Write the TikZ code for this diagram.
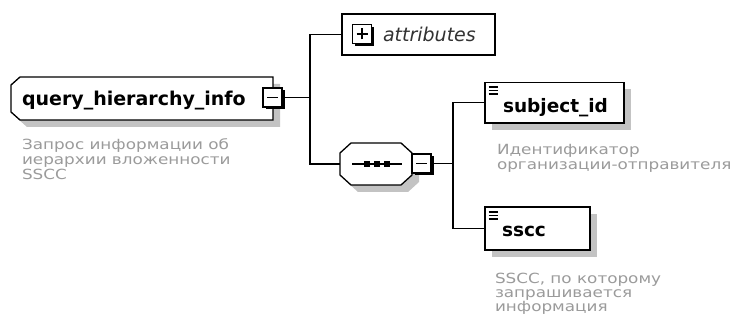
\documentclass[tikz,border=0pt]{standalone}
\usepackage{fontspec}
\setmainfont{DejaVu Sans}
\usetikzlibrary{shadows}
\definecolor{descgray}{RGB}{155,155,155}
\definecolor{shadowgray}{RGB}{195,195,195}
\definecolor{attrtext}{RGB}{50,50,50}
\newcommand{\dscl}[1]{\scalebox{1.2}[1]{#1}}
\begin{document}
\begin{tikzpicture}[x=1pt,y=-1pt,
  every node/.style={inner sep=0pt, outer sep=0pt},
  bshadow/.style={drop shadow={fill=shadowgray, opacity=1, shadow xshift=7pt, shadow yshift=-7pt}},
  elbox/.style={draw=black, fill=white, line width=1.3pt, bshadow},
  togglebox/.style={draw=black, fill=white, line width=1.2pt, minimum width=19pt, minimum height=19pt,
    drop shadow={fill=black, opacity=1, shadow xshift=2.5pt, shadow yshift=-2.5pt}},
  minusbox/.style={togglebox, path picture={\draw[line width=1.2pt] ([xshift=-5.5pt]path picture bounding box.center) -- ([xshift=5.5pt]path picture bounding box.center);}},
  plusbox/.style={togglebox, path picture={\draw[line width=1.2pt] ([xshift=-5.5pt]path picture bounding box.center) -- ([xshift=5.5pt]path picture bounding box.center) ([yshift=-5.5pt]path picture bounding box.center) -- ([yshift=5.5pt]path picture bounding box.center);}},
  conn/.style={draw=black, line width=1.2pt},
  title/.style={font=\fontsize{18.5}{20}\selectfont\bfseries, text=black},
  attrlabel/.style={font=\fontsize{19}{20}\selectfont\itshape, text=attrtext},
  desc/.style={font=\fontsize{14}{15}\selectfont, text=descgray, align=left},
  icon/.style={line width=1.2pt}
]
\useasboundingbox (0,0) rectangle (733,328);
\fill[white] (0,0) rectangle (733,328);

% main element
\node[minimum width=262pt, minimum height=43pt] (main) at (142,98.5) {};
\draw[elbox] ([xshift=9pt]main.north west) -- (main.north east) -- (main.south east)
  -- ([xshift=9pt]main.south west) -- ([yshift=8pt]main.south west) -- ([yshift=-8pt]main.north west) -- cycle;
\node[title, font=\fontsize{19}{20}\selectfont\bfseries, anchor=base west] (maintxt) at (22,106) {query\_hierarchy\_info};
\node[minusbox] (mminus) at (272.5,97.5) {};
\node[desc, anchor=base west] (maindesc) at (22,180) {\dscl{Запрос информации об}\\\dscl{иерархии вложенности}\\\dscl{SSCC}};

% attributes
\node[draw=black, fill=white, line width=1.2pt, minimum width=153pt, minimum height=41pt] (attr) at (418.5,34.5) {};
\node[plusbox] (aplus) at (362,34) {};
\node[attrlabel, anchor=base west] (attrtxt) at (383,41.5) {attributes};

% sequence
\node[minimum width=72pt, minimum height=42pt] (seq) at (376,164) {};
\draw[elbox, shadow xshift=8pt] ([xshift=11pt]seq.north west) -- ([xshift=-11pt]seq.north east) -- ([yshift=-10pt]seq.north east)
  -- ([yshift=10pt]seq.south east) -- ([xshift=-11pt]seq.south east) -- ([xshift=11pt]seq.south west)
  -- ([yshift=10pt]seq.south west) -- ([yshift=-10pt]seq.north west) -- cycle;
\draw[line width=1.2pt] ([xshift=-24pt]seq.center) -- ([xshift=26pt]seq.center);
\foreach \dx in {-9.3,0.7,10.7}
  \fill ([shift={(\dx-3,-3)}]seq.center) rectangle +(6,6);
\node[minusbox] (sminus) at (421.5,163.5) {};

% subject_id
\node[elbox, minimum width=139pt, minimum height=40.5pt] (subj) at (554.5,102.75) {};
\draw[icon] ([shift={(3.5,4.5)}]subj.north west) -- +(9,0) ([shift={(3.5,8)}]subj.north west) -- +(9,0) ([shift={(3.5,11.5)}]subj.north west) -- +(9,0);
\node[title, anchor=base west] (subjtxt) at (503,113) {subject\_id};
\node[desc, anchor=base west] (subjdesc) at (497,170) {\dscl{Идентификатор}\\\dscl{организации-отправителя}};

% sscc
\node[elbox, minimum width=105pt, minimum height=43pt] (sscc) at (537.5,228.5) {};
\draw[icon] ([shift={(3.5,5)}]sscc.north west) -- +(9,0) ([shift={(3.5,8.5)}]sscc.north west) -- +(9,0) ([shift={(3.5,12)}]sscc.north west) -- +(9,0);
\node[title, anchor=base west] (sscctxt) at (502,236.5) {sscc};
\node[desc, anchor=base west, font=\fontsize{14}{14}\selectfont] (ssccdesc) at (495,311.5) {\dscl{SSCC, по которому}\\\dscl{запрашивается}\\\dscl{информация}};

% connectors
\coordinate (j1) at (310,97.5);
\coordinate (j2) at (453,163.5);
\draw[conn] (mminus.east) -- (j1);
\draw[conn] (attr.west) -| (j1) |- (seq.west);
\draw[conn] (sminus.east) -- (j2);
\draw[conn] (subj.west) -| (j2) |- (sscc.west);
\end{tikzpicture}
\end{document}
